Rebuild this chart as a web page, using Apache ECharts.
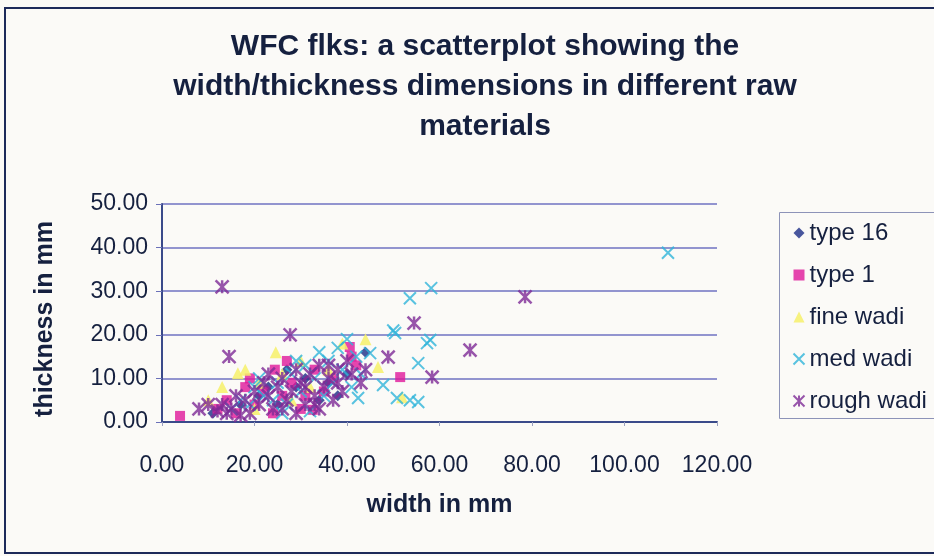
<!DOCTYPE html>
<html>
<head>
<meta charset="utf-8">
<script src="https://cdn.jsdelivr.net/npm/echarts@6/dist/echarts.min.js"></script>
<style>
  html, body { margin: 0; padding: 0; background: #fbfaf7; }
  #chart { width: 934px; height: 556px; }
</style>
</head>
<body>
<div id="chart"></div>
<script>
// Flake width / thickness (mm) grouped by raw material
const seriesNames = ['type 16', 'type 1', 'fine wadi', 'med wadi', 'rough wadi'];

const type16 = [
  [11, 2], [17, 4], [21, 6], [25, 4], [29, 8], [31, 10], [34, 5], [36, 9],
  [38, 6], [40, 11], [23, 8], [27, 12], [44, 16]
];
const type1 = [
  [3.9, 1.4], [12, 3], [14, 5], [16, 2], [18, 8], [20, 4], [22, 7], [24.4, 12],
  [26, 6], [28, 9], [30, 3], [32.6, 2.8], [33, 12], [35, 7], [37, 10], [40.6, 17.2],
  [41, 15], [42, 13], [51.5, 10.3], [19, 10], [27, 14], [31, 6], [24, 2]
];
const fineWadi = [
  [10, 5], [13, 8], [16.4, 11.2], [18, 12], [21, 9], [24.6, 16], [26, 11], [30, 14],
  [32, 8], [36, 12], [39, 18], [46.7, 12.6], [51.9, 5.7], [44, 19], [28, 5], [20, 3]
];
const medWadi = [
  [15, 3], [17, 5], [19, 4], [20, 8], [22, 6], [24, 5], [25, 9], [27, 4], [28, 11],
  [30, 7], [31, 13], [33, 10], [34, 16], [35, 6], [36, 14], [37, 9], [38, 17], [39, 12],
  [40, 19], [41, 8], [42, 15], [43, 11], [42.4, 5.5], [45, 15.8], [47.8, 8.5], [50, 21],
  [50.4, 20.4], [50.8, 5.5], [53.6, 5], [55.4, 4.6], [55.4, 13.5], [57.3, 18.1], [58, 18.8],
  [53.6, 28.4], [58.2, 30.7], [109.4, 38.8], [26, 2], [32, 2.5], [21, 10], [29, 14]
];
const roughWadi = [
  [8, 3], [10, 4], [12, 2.5], [13, 4], [15, 3], [16, 6], [18, 5], [19, 2], [20, 7],
  [21, 4], [22, 9], [23, 6], [24, 3], [25, 8], [26, 10], [27, 5], [28, 7], [29, 12],
  [30, 9], [31, 4], [32, 11], [33, 6], [34, 13], [35, 8], [36, 10], [37, 5], [38, 12],
  [39, 7], [40, 14], [41, 11], [43, 9], [23, 11], [29, 2], [26, 3], [17, 1.5], [14, 2],
  [34, 3], [36, 13], [44, 12], [31, 8], [33, 4], [38, 9],
  [13, 31], [14.5, 15], [27.7, 20], [54.5, 22.7], [66.6, 16.5], [78.5, 28.7],
  [48.9, 14.9], [58.4, 10.3]
];

const xTicks = { min: 0, max: 120, interval: 20 };
const yTicks = { min: 0, max: 50, interval: 10 };

const titleLines = [
  'WFC flks: a scatterplot showing the',
  'width/thickness dimensions in different raw',
  'materials'
];

const ink = '#15203f';
const font = 'Liberation Sans, Arial, sans-serif';

const xMark = 'path://M0,0L10,10M10,0L0,10';
const starMark = 'path://M0,0L10,10M10,0L0,10M5,0L5,10';

const chart = echarts.init(document.getElementById('chart'), null, { renderer: 'canvas' });

chart.setOption({
  backgroundColor: '#fbfaf7',
  animation: false,
  title: {
    text: titleLines.join('\n'),
    left: 480,
    top: 22,
    textAlign: 'center',
    textStyle: {
      fontFamily: font,
      fontWeight: 'bold',
      fontSize: 30,
      lineHeight: 40,
      color: ink
    }
  },
  graphic: [
    {
      type: 'rect',
      shape: { x: 5, y: 8, width: 940, height: 545 },
      style: { fill: 'none', stroke: '#1d2a5a', lineWidth: 2 },
      silent: true
    },
    {
      type: 'rect',
      shape: { x: 779.5, y: 212.5, width: 170, height: 206 },
      style: { fill: 'none', stroke: '#8d93b8', lineWidth: 1 },
      silent: true
    }
  ],
  legend: {
    orient: 'vertical',
    left: 786,
    top: 216,
    itemGap: 18,
    itemWidth: 11,
    itemHeight: 11,
    textStyle: { fontFamily: font, fontSize: 24, color: ink, padding: [0, 0, 0, 0] },
    data: seriesNames
  },
  grid: { left: 162, right: 217, top: 204, bottom: 134 },
  xAxis: {
    type: 'value',
    min: xTicks.min,
    max: xTicks.max,
    interval: xTicks.interval,
    name: 'width in mm',
    nameLocation: 'middle',
    nameGap: 71,
    nameTextStyle: { fontFamily: font, fontWeight: 'bold', fontSize: 25, color: ink },
    axisLine: { show: true, lineStyle: { color: '#3a4a8a', width: 2 } },
    axisTick: { show: true, length: 4, lineStyle: { color: '#9aa0c0' } },
    axisLabel: {
      fontFamily: font, fontSize: 23, color: ink, margin: 32,
      formatter: v => v.toFixed(2)
    },
    splitLine: { show: false }
  },
  yAxis: {
    type: 'value',
    min: yTicks.min,
    max: yTicks.max,
    interval: yTicks.interval,
    name: 'thickness in mm',
    nameLocation: 'middle',
    nameGap: 104,
    nameTextStyle: { fontFamily: font, fontWeight: 'bold', fontSize: 25, color: ink, padding: [0, 12, 0, 0] },
    axisLine: { show: true, lineStyle: { color: '#3a4a8a', width: 2 } },
    axisTick: { show: true, length: 6, lineStyle: { color: '#6a70b8' } },
    axisLabel: {
      fontFamily: font, fontSize: 23, color: ink, margin: 14,
      formatter: v => v.toFixed(2)
    },
    splitLine: { show: true, lineStyle: { color: '#6f72c2', width: 1.5 } }
  },
  series: [
    {
      name: 'type 16', type: 'scatter', data: type16,
      symbol: 'diamond', symbolSize: 11,
      itemStyle: { color: '#1b2d86' }
    },
    {
      name: 'type 1', type: 'scatter', data: type1,
      symbol: 'rect', symbolSize: 10,
      itemStyle: { color: '#e0189a' }
    },
    {
      name: 'fine wadi', type: 'scatter', data: fineWadi,
      symbol: 'triangle', symbolSize: 12,
      itemStyle: { color: '#f6f06a', opacity: 0.85 }
    },
    {
      name: 'med wadi', type: 'scatter', data: medWadi,
      symbol: xMark, symbolSize: 12,
      itemStyle: { color: 'none', borderColor: '#2fb4da', borderWidth: 2 }
    },
    {
      name: 'rough wadi', type: 'scatter', data: roughWadi,
      symbol: starMark, symbolSize: 13,
      itemStyle: { color: 'none', borderColor: '#7e2a96', borderWidth: 2.5 }
    }
  ]
});
</script>
</body>
</html>
